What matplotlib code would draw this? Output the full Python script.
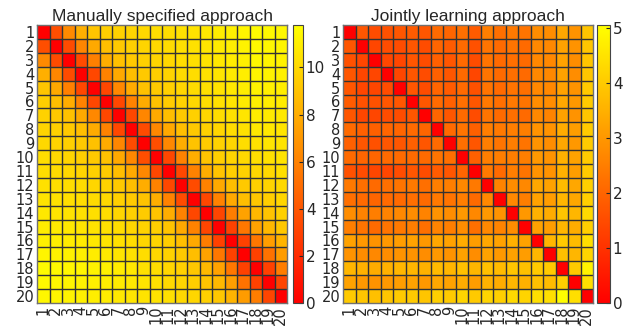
import numpy as np
import matplotlib
matplotlib.use("Agg")
import matplotlib.pyplot as plt

plt.rcParams['font.family'] = ['Liberation Sans', 'DejaVu Sans']

labels = [str(i) for i in range(1, 21)]

# pairwise distances, manually specified model
manual = [
    [0, 3.6, 6.4, 8.1, 9.1, 9.5, 9.7, 9.8, 10.0, 10.2, 10.2, 10.4, 10.5, 10.7, 10.9, 11.1, 11.3, 11.6, 11.5, 11.4],
    [3.6, 0, 3.5, 6.2, 7.8, 8.8, 9.3, 9.6, 9.8, 10.0, 10.1, 10.3, 10.4, 10.6, 10.8, 11.0, 11.2, 11.5, 11.4, 11.3],
    [6.4, 3.5, 0, 3.5, 5.9, 8.0, 8.9, 9.3, 9.6, 9.8, 10.0, 10.2, 10.3, 10.5, 10.7, 10.9, 11.1, 11.4, 11.3, 11.2],
    [8.1, 6.2, 3.5, 0, 3.3, 6.0, 7.8, 8.8, 9.3, 9.5, 9.8, 10.1, 10.2, 10.4, 10.6, 10.8, 11.0, 11.3, 11.2, 11.1],
    [9.1, 7.8, 5.9, 3.3, 0, 3.3, 6.3, 7.9, 8.9, 9.3, 9.6, 9.9, 10.1, 10.3, 10.5, 10.7, 10.9, 11.2, 11.1, 11.0],
    [9.5, 8.8, 8.0, 6.0, 3.3, 0, 3.3, 6.0, 7.9, 8.9, 9.4, 9.7, 10.0, 10.2, 10.4, 10.6, 10.8, 11.1, 11.0, 10.9],
    [9.7, 9.3, 8.9, 7.8, 6.3, 3.3, 0, 3.3, 6.2, 7.8, 8.8, 9.3, 9.6, 9.9, 10.2, 10.4, 10.6, 10.9, 10.8, 10.7],
    [9.8, 9.6, 9.3, 8.8, 7.9, 6.0, 3.3, 0, 3.5, 6.3, 7.8, 8.8, 9.3, 9.6, 9.9, 10.2, 10.4, 10.7, 10.7, 10.6],
    [10.0, 9.8, 9.6, 9.3, 8.9, 7.9, 6.2, 3.5, 0, 3.6, 6.3, 8.0, 9.0, 9.4, 9.7, 9.9, 10.2, 10.4, 10.6, 10.5],
    [10.2, 10.0, 9.8, 9.5, 9.3, 8.9, 7.8, 6.3, 3.6, 0, 3.3, 6.0, 8.0, 9.0, 9.5, 9.8, 10.0, 10.2, 10.4, 10.5],
    [10.2, 10.1, 10.0, 9.8, 9.6, 9.4, 8.8, 7.8, 6.3, 3.3, 0, 3.3, 6.0, 8.0, 9.0, 9.5, 9.7, 9.9, 10.0, 10.3],
    [10.4, 10.3, 10.2, 10.1, 9.9, 9.7, 9.3, 8.8, 8.0, 6.0, 3.3, 0, 3.5, 6.0, 7.8, 8.8, 9.3, 9.6, 9.8, 10.0],
    [10.5, 10.4, 10.3, 10.2, 10.1, 10.0, 9.6, 9.3, 9.0, 8.0, 6.0, 3.5, 0, 3.3, 6.0, 7.8, 8.8, 9.2, 9.5, 9.9],
    [10.7, 10.6, 10.5, 10.4, 10.3, 10.2, 9.9, 9.6, 9.4, 9.0, 8.0, 6.0, 3.3, 0, 3.2, 5.8, 7.5, 8.5, 9.0, 9.6],
    [10.9, 10.8, 10.7, 10.6, 10.5, 10.4, 10.2, 9.9, 9.7, 9.5, 9.0, 7.8, 6.0, 3.2, 0, 3.0, 5.5, 7.5, 8.5, 9.2],
    [11.1, 11.0, 10.9, 10.8, 10.7, 10.6, 10.4, 10.2, 9.9, 9.8, 9.5, 8.8, 7.8, 5.8, 3.0, 0, 3.0, 5.5, 7.3, 8.3],
    [11.3, 11.2, 11.1, 11.0, 10.9, 10.8, 10.6, 10.4, 10.2, 10.0, 9.7, 9.3, 8.8, 7.5, 5.5, 3.0, 0, 3.0, 5.3, 7.2],
    [11.6, 11.5, 11.4, 11.3, 11.2, 11.1, 10.9, 10.7, 10.4, 10.2, 9.9, 9.6, 9.2, 8.5, 7.5, 5.5, 3.0, 0, 3.0, 5.8],
    [11.5, 11.4, 11.3, 11.2, 11.1, 11.0, 10.8, 10.7, 10.6, 10.4, 10.0, 9.8, 9.5, 9.0, 8.5, 7.3, 5.3, 3.0, 0, 3.2],
    [11.4, 11.3, 11.2, 11.1, 11.0, 10.9, 10.7, 10.6, 10.5, 10.5, 10.3, 10.0, 9.9, 9.6, 9.2, 8.3, 7.2, 5.8, 3.2, 0],
]

# pairwise distances, jointly learned model
joint = [
    [0, 1.7, 1.5, 1.6, 1.7, 1.8, 1.7, 2.1, 2.0, 2.2, 1.8, 2.5, 2.2, 2.4, 2.3, 2.8, 2.8, 3.3, 2.9, 3.9],
    [1.7, 0, 1.4, 1.5, 1.5, 1.7, 1.5, 2.0, 1.8, 2.1, 1.6, 2.3, 2.1, 2.3, 2.1, 2.7, 2.7, 3.2, 2.9, 3.9],
    [1.6, 1.4, 0, 1.4, 1.4, 1.7, 1.5, 1.9, 1.7, 2.1, 1.5, 2.3, 2.1, 2.2, 2.1, 2.7, 2.7, 3.2, 2.8, 3.9],
    [1.7, 1.4, 1.4, 0, 1.4, 1.7, 1.5, 1.9, 1.7, 2.1, 1.4, 2.3, 2.1, 2.2, 2.1, 2.7, 2.7, 3.2, 2.8, 3.9],
    [1.7, 1.4, 1.4, 1.5, 0, 1.7, 1.5, 2.0, 1.8, 2.1, 1.6, 2.3, 2.1, 2.3, 2.2, 2.7, 2.7, 3.2, 2.9, 4.0],
    [1.8, 1.6, 1.6, 1.7, 1.7, 0, 1.7, 2.1, 1.9, 2.2, 1.7, 2.4, 2.2, 2.4, 2.3, 2.8, 2.8, 3.3, 3.0, 4.0],
    [1.7, 1.4, 1.4, 1.5, 1.5, 1.7, 0, 2.0, 1.7, 2.1, 1.5, 2.3, 2.1, 2.2, 2.1, 2.7, 2.6, 3.2, 2.9, 3.9],
    [2.1, 1.9, 1.9, 2.0, 2.0, 2.1, 2.0, 0, 2.1, 2.3, 1.9, 2.5, 2.4, 2.5, 2.5, 2.9, 2.9, 3.4, 3.1, 4.0],
    [1.9, 1.7, 1.6, 1.7, 1.7, 1.9, 1.7, 2.1, 0, 2.2, 1.7, 2.5, 2.3, 2.5, 2.3, 2.9, 2.8, 3.3, 3.0, 4.0],
    [2.1, 2.0, 2.0, 2.1, 2.1, 2.1, 2.1, 2.3, 2.2, 0, 1.9, 2.5, 2.5, 2.5, 2.5, 3.0, 2.9, 3.5, 3.2, 4.0],
    [1.6, 1.5, 1.4, 1.4, 1.5, 1.7, 1.5, 1.8, 1.7, 2.0, 0, 2.4, 2.1, 2.5, 2.3, 2.9, 2.9, 3.5, 3.1, 4.0],
    [2.4, 2.2, 2.1, 2.2, 2.3, 2.4, 2.2, 2.5, 2.5, 2.7, 2.4, 0, 2.6, 2.8, 2.7, 3.3, 3.2, 3.7, 3.3, 4.1],
    [2.2, 2.1, 2.0, 2.1, 2.1, 2.2, 2.1, 2.4, 2.3, 2.5, 2.1, 2.7, 0, 2.7, 2.5, 3.2, 3.1, 3.6, 3.3, 4.1],
    [2.8, 2.6, 2.5, 2.6, 2.7, 2.8, 2.6, 2.9, 2.8, 3.0, 2.7, 3.0, 2.9, 0, 3.0, 3.5, 3.4, 3.9, 3.6, 4.3],
    [2.5, 2.3, 2.1, 2.3, 2.4, 2.5, 2.2, 2.6, 2.5, 2.8, 2.2, 2.7, 2.6, 2.8, 0, 3.2, 3.1, 3.6, 3.4, 4.1],
    [3.2, 3.0, 2.9, 3.0, 3.1, 3.2, 3.0, 3.3, 3.2, 3.4, 3.1, 3.3, 3.2, 3.5, 3.2, 0, 3.6, 4.0, 3.7, 4.4],
    [2.9, 2.8, 2.7, 2.8, 2.9, 2.9, 2.8, 3.0, 2.9, 3.2, 2.8, 3.2, 3.0, 3.2, 3.1, 3.6, 0, 3.8, 3.6, 4.2],
    [3.6, 3.5, 3.4, 3.5, 3.6, 3.6, 3.5, 3.7, 3.6, 3.8, 3.6, 3.8, 3.7, 3.9, 3.8, 4.0, 4.0, 0, 4.0, 4.8],
    [3.2, 3.0, 2.9, 3.0, 3.1, 3.2, 3.0, 3.3, 3.2, 3.4, 3.1, 3.5, 3.4, 3.6, 3.5, 3.8, 3.7, 4.1, 0, 4.4],
    [4.0, 3.9, 3.8, 3.9, 4.0, 4.0, 3.9, 4.1, 4.0, 4.2, 4.0, 4.2, 4.1, 4.3, 4.2, 4.4, 4.4, 5.0, 4.4, 0],
]

W, H = 626, 326
fig = plt.figure(figsize=(W / 100, H / 100), dpi=100)
tick_font = dict(family='DejaVu Sans', size=10.5)


def panel(ax_box, cb_box, data, vmax, title, cticks):
    ax = fig.add_axes([ax_box[0] / W, 1 - ax_box[3] / H,
                       (ax_box[2] - ax_box[0]) / W, (ax_box[3] - ax_box[1]) / H])
    cax = fig.add_axes([cb_box[0] / W, 1 - cb_box[3] / H,
                        (cb_box[2] - cb_box[0]) / W, (cb_box[3] - cb_box[1]) / H])
    m = ax.pcolormesh(np.array(data), cmap='autumn', vmin=0, vmax=vmax)
    # crisp cell borders
    for k in range(1, 20):
        ax.axvline(k, color='#333333', lw=1.0, snap=True)
        ax.axhline(k, color='#333333', lw=1.0, snap=True)
    ax.set_xlim(0, 20)
    ax.set_ylim(20, 0)
    ticks = np.arange(20) + 0.5
    ax.set_xticks(ticks)
    ax.set_xticklabels(labels, rotation=90, fontdict=tick_font)
    ax.set_yticks(ticks)
    ax.set_yticklabels(labels, fontdict=tick_font)
    ax.tick_params(length=0, pad=2, colors='#262626')
    for s in ax.spines.values():
        s.set_color('#707070')
        s.set_linewidth(1.0)
    ax.set_title(title, fontsize=12.5, color='#262626', pad=3)

    cb = fig.colorbar(m, cax=cax, ticks=cticks)
    cb.outline.set_edgecolor('#444444')
    cb.outline.set_linewidth(0.8)
    cb.ax.tick_params(direction='in', length=3, width=0.8, pad=2, colors='#262626')
    for t in cb.ax.get_yticklabels():
        t.set_fontfamily('DejaVu Sans')
        t.set_fontsize(11)
    return ax


panel((37, 25, 287, 303), (293, 25, 303, 303), manual, 11.8,
      'Manually specified approach', [0, 2, 4, 6, 8, 10])
panel((343, 25, 593, 303), (597, 25, 610, 303), joint, 5.05,
      'Jointly learning approach', [0, 1, 2, 3, 4, 5])

fig.savefig('out.png', dpi=100)
